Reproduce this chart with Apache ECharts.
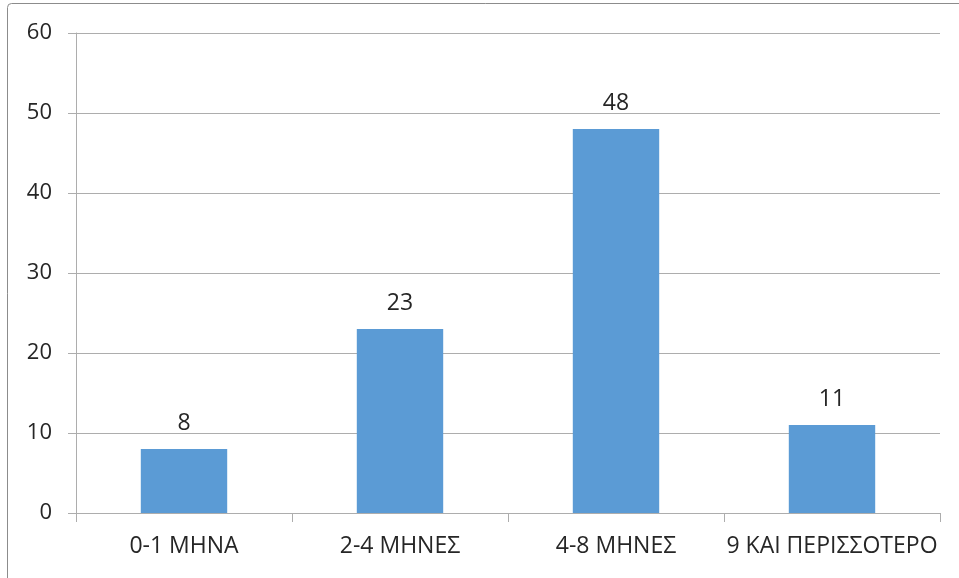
<!DOCTYPE html>
<html>
<head>
<meta charset="utf-8">
<script src="https://cdn.jsdelivr.net/npm/echarts@6/dist/echarts.min.js"></script>
<style>
  html, body { margin: 0; padding: 0; background: #fff; }
  #chart { width: 959px; height: 578px; }
</style>
</head>
<body>
<div id="chart"></div>
<script>
// Duration categories and counts
const categories = ['0-1 ΜΗΝΑ', '2-4 ΜΗΝΕΣ', '4-8 ΜΗΝΕΣ', '9 ΚΑΙ ΠΕΡΙΣΣΟΤΕΡΟ'];
const counts = [8, 23, 48, 11];
const yTicks = [0, 10, 20, 30, 40, 50, 60];

const FONT = '"Open Sans", "Noto Sans", sans-serif';
const TEXT = '#262626';
const LINE = '#ADADAD';

const chart = echarts.init(document.getElementById('chart'), null, { renderer: 'canvas' });
chart.setOption({
  animation: false,
  backgroundColor: '#fff',
  graphic: [{
    type: 'rect',
    shape: { x: 7.5, y: 3.5, width: 970, height: 600, r: 4 },
    style: { fill: 'none', stroke: '#8C8C8C', lineWidth: 1 },
    silent: true
  }],
  grid: { left: 76, right: 19, top: 33, bottom: 65, containLabel: false },
  xAxis: {
    type: 'category',
    data: categories,
    axisLine: { show: true, lineStyle: { color: LINE, width: 1 } },
    axisTick: { show: true, length: 9, alignWithLabel: false, lineStyle: { color: LINE } },
    axisLabel: {
      interval: 0,
      hideOverlap: false,
      color: TEXT,
      fontFamily: FONT,
      fontSize: 23,
      margin: 22
    },
    splitLine: { show: false }
  },
  yAxis: {
    type: 'value',
    min: yTicks[0],
    max: yTicks[yTicks.length - 1],
    interval: 10,
    axisLine: { show: true, lineStyle: { color: LINE, width: 1 } },
    axisTick: { show: true, length: 8, lineStyle: { color: LINE } },
    axisLabel: { color: TEXT, fontFamily: FONT, fontSize: 22, margin: 24 },
    splitLine: { show: true, lineStyle: { color: LINE, width: 1 } }
  },
  series: [{
    type: 'bar',
    data: counts,
    barWidth: '40%',
    itemStyle: { color: '#5B9BD5' },
    label: {
      show: true,
      position: 'top',
      distance: 14,
      color: TEXT,
      fontFamily: FONT,
      fontSize: 23
    }
  }]
});
</script>
</body>
</html>
